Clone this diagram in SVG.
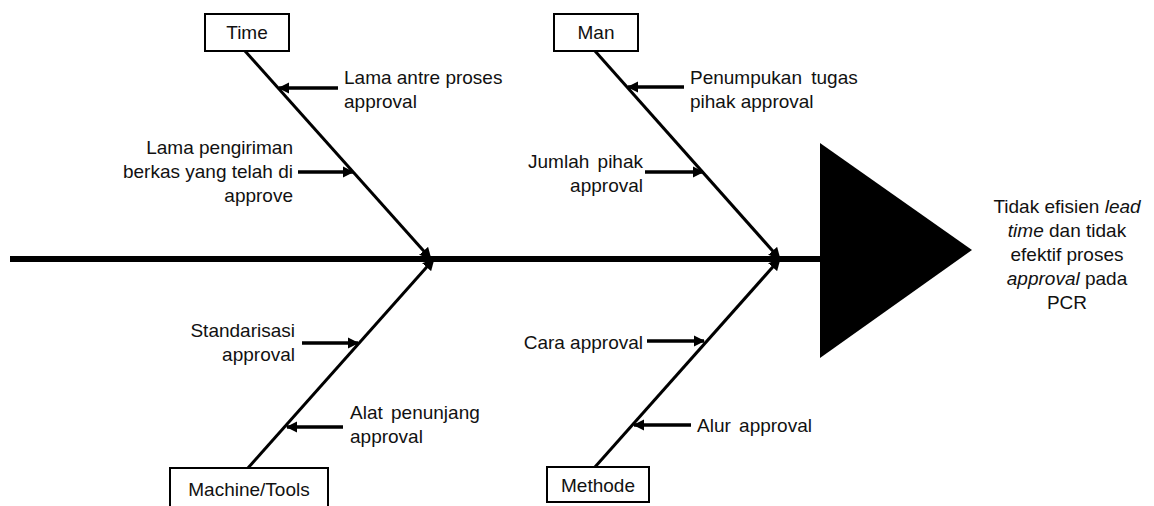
<svg xmlns="http://www.w3.org/2000/svg" width="1154" height="506" viewBox="0 0 1154 506">
  <style>
    .box { fill: #ffffff; stroke: #000000; stroke-width: 2; }
    .lbl { font-family: "Liberation Sans", Arial, sans-serif; font-size: 19px; fill: #111111; }
    .mid { text-anchor: middle; }
    .end { text-anchor: end; }
    .bone { stroke: #000000; stroke-width: 3; fill: none; marker-end: url(#head); }
    .cause { stroke: #000000; stroke-width: 3.5; fill: none; marker-end: url(#tip); }
    .spine { stroke: #000000; stroke-width: 6; fill: none; }
  </style>
  <defs>
    <marker id="head" viewBox="0 0 10 10" refX="8" refY="5" markerWidth="4" markerHeight="4" orient="auto" markerUnits="strokeWidth">
      <path d="M0,0 L10,5 L0,10 Z" fill="#000000"/>
    </marker>
    <marker id="tip" viewBox="0 0 10 10" refX="9" refY="5" markerWidth="3.2" markerHeight="3.2" orient="auto" markerUnits="strokeWidth">
      <path d="M0,0 L10,5 L0,10 Z" fill="#000000"/>
    </marker>
  </defs>

  <!-- connectors: spine, category bones and cause arrows -->
  <g id="connectors">
    <line class="spine" x1="10" y1="259" x2="822" y2="259"/>
    <line class="bone" x1="245" y1="51" x2="430" y2="258"/>
    <line class="bone" x1="595" y1="51" x2="779" y2="258"/>
    <line class="bone" x1="248" y1="468" x2="433" y2="260"/>
    <line class="bone" x1="595" y1="467" x2="779" y2="260"/>

    <line class="cause" x1="338" y1="88" x2="279" y2="88"/>
    <line class="cause" x1="298" y1="172" x2="353" y2="172"/>
    <line class="cause" x1="684" y1="87" x2="628" y2="87"/>
    <line class="cause" x1="645" y1="172" x2="703" y2="172"/>
    <line class="cause" x1="302" y1="343" x2="358" y2="343"/>
    <line class="cause" x1="343" y1="427" x2="287" y2="427"/>
    <line class="cause" x1="647" y1="341" x2="704" y2="341"/>
    <line class="cause" x1="691" y1="425" x2="634" y2="425"/>
  </g>

  <!-- effect head -->
  <g id="effect">
    <polygon points="820,143 820,358 972,250" fill="#000000"/>
    <text class="lbl mid" x="1067" y="213">Tidak efisien <tspan font-style="italic">lead</tspan></text>
    <text class="lbl mid" x="1067" y="237"><tspan font-style="italic">time</tspan> dan tidak</text>
    <text class="lbl mid" x="1067" y="261">efektif proses</text>
    <text class="lbl mid" x="1067" y="285"><tspan font-style="italic">approval</tspan> pada</text>
    <text class="lbl mid" x="1067" y="309">PCR</text>
  </g>

  <!-- category: Time -->
  <g id="time">
    <rect class="box" x="205" y="14" width="84" height="37"/>
    <text class="lbl mid" x="247" y="39">Time</text>
  </g>

  <!-- category: Man -->
  <g id="man">
    <rect class="box" x="554" y="14" width="84" height="37"/>
    <text class="lbl mid" x="596" y="39">Man</text>
  </g>

  <!-- category: Machine/Tools -->
  <g id="machine">
    <rect class="box" x="170" y="468" width="158" height="42"/>
    <text class="lbl mid" x="249" y="496">Machine/Tools</text>
  </g>

  <!-- category: Methode -->
  <g id="methode">
    <rect class="box" x="547" y="467" width="102" height="35"/>
    <text class="lbl mid" x="598" y="492">Methode</text>
  </g>

  <!-- causes -->
  <g id="cause-antre">
    <text class="lbl" x="344" y="84">Lama antre proses</text>
    <text class="lbl" x="344" y="108">approval</text>
  </g>
  <g id="cause-pengiriman">
    <text class="lbl end" x="293" y="154">Lama pengiriman</text>
    <text class="lbl end" x="293" y="178">berkas yang telah di</text>
    <text class="lbl end" x="293" y="202">approve</text>
  </g>
  <g id="cause-penumpukan">
    <text class="lbl" x="690" y="84" word-spacing="4">Penumpukan tugas</text>
    <text class="lbl" x="690" y="108">pihak approval</text>
  </g>
  <g id="cause-jumlah">
    <text class="lbl end" x="643" y="168" word-spacing="3">Jumlah pihak</text>
    <text class="lbl end" x="643" y="192">approval</text>
  </g>
  <g id="cause-standarisasi">
    <text class="lbl end" x="295" y="337">Standarisasi</text>
    <text class="lbl end" x="295" y="361">approval</text>
  </g>
  <g id="cause-alat">
    <text class="lbl" x="350" y="419" word-spacing="3">Alat penunjang</text>
    <text class="lbl" x="350" y="443">approval</text>
  </g>
  <g id="cause-cara">
    <text class="lbl end" x="643" y="349">Cara approval</text>
  </g>
  <g id="cause-alur">
    <text class="lbl" x="697" y="432" word-spacing="3">Alur approval</text>
  </g>
</svg>
